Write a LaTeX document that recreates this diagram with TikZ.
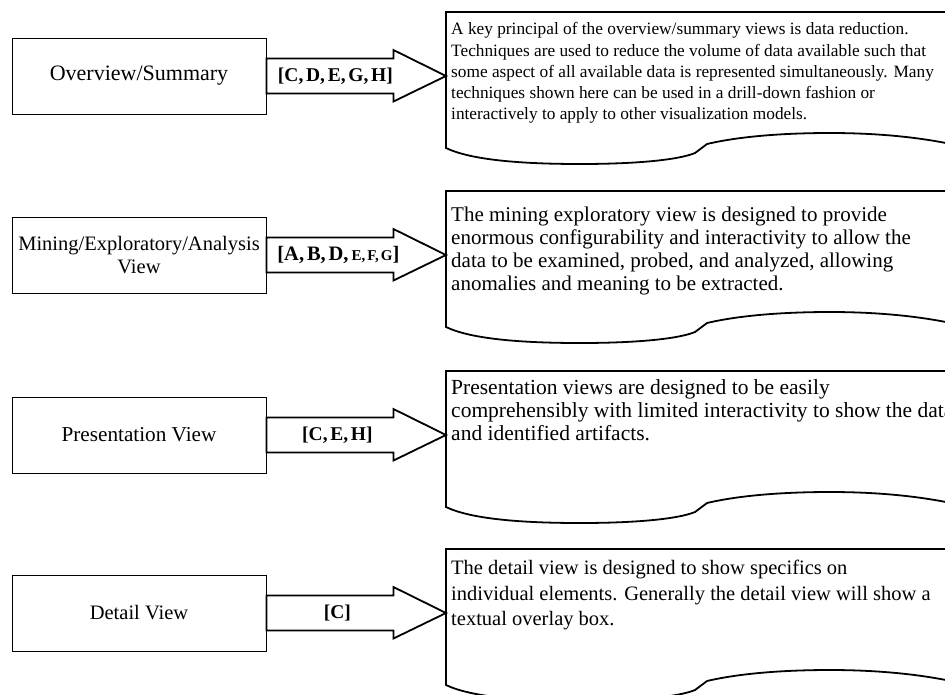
\documentclass[tikz,border=0pt]{standalone}
\usepackage{fontspec}
\setmainfont{Liberation Serif}
\usetikzlibrary{calc}
\newcommand{\lsp}{\hspace{0.14em}}
\begin{document}
\begin{tikzpicture}[x=1pt,y=-1pt,
  viewbox/.style={draw, line width=0.9pt, minimum width=254pt, minimum height=76pt,
    inner sep=0pt, align=center, font=\fontsize{20.5}{23}\selectfont},
  blockarrow/.style={draw, line width=1.8pt, line join=miter},
  arrowlabel/.style={font=\bfseries\fontsize{19.5}{21}\selectfont, inner sep=0pt},
  doctext/.style={anchor=north west, inner sep=0pt, align=left},
  docline/.style={draw, line width=1.8pt},
  docshape/.pic={
    \draw[docline] (0,136) -- (0,0) -- (514,0) -- (514,134)
      .. controls (475,125) and (430,121) .. (384,121)
      .. controls (340,121) and (295,124) .. (261,132)
      -- (249,141)
      .. controls (232,148) and (190,152) .. (134,152)
      .. controls (75,152) and (25,148) .. (0,136) -- cycle;
  }
]
\clip (0,0) rectangle (945,694);
\fill[white] (0,0) rectangle (945,694);

% row 1: overview / summary
\node[viewbox, font=\fontsize{22}{24}\selectfont] (ov) at (139,76) {Overview/Summary};
\coordinate (d1) at (446,12);
\pic at (d1) {docshape};
\node[doctext, font=\fontsize{17.3}{21.2}\selectfont] (t1) at ($(d1)+(5,10.5)$)
  {A key principal of the overview/summary views is data reduction.\\
   Techniques are used to reduce the volume of data available such that\\
   some aspect of all available data is represented simultaneously. Many\\
   techniques shown here can be used in a drill-down fashion or\\
   interactively to apply to other visualization models.};
\draw[blockarrow] ($(ov.east)+(0,-17.5)$) -- ++(127,0) -- ++(0,-8.5)
  -- (d1 |- ov.east) -- ($(ov.east)+(127,25.5)$) -- ++(0,-8)
  -- ($(ov.east)+(0,17.5)$) -- cycle;
\node[arrowlabel] (l1) at ($(ov.east)+(69,0)$) {[C,\lsp D,\lsp E,\lsp G,\lsp H]};

% row 2: mining / exploratory / analysis
\node[viewbox] (mi) at (139,255) {Mining/Exploratory/Analysis\\View};
\coordinate (d2) at (446,191);
\pic at (d2) {docshape};
\node[doctext, font=\fontsize{21}{23}\selectfont] (t2) at ($(d2)+(5,15.5)$)
  {The mining exploratory view is designed to provide\\
   enormous configurability and interactivity to allow the\\
   data to be examined, probed, and analyzed, allowing\\
   anomalies and meaning to be extracted.};
\draw[blockarrow] ($(mi.east)+(0,-17.5)$) -- ++(127,0) -- ++(0,-8.5)
  -- (d2 |- mi.east) -- ($(mi.east)+(127,25.5)$) -- ++(0,-8)
  -- ($(mi.east)+(0,17.5)$) -- cycle;
\node[arrowlabel, font=\bfseries\fontsize{20.5}{22}\selectfont] (l2) at ($(mi.east)+(72,0)$)
  {[A,\lsp B,\lsp D,\lsp{\fontsize{15}{16}\selectfont E,\lsp F,\lsp G}]};

% row 3: presentation
\node[viewbox, font=\fontsize{21.2}{23}\selectfont] (pr) at (139,435) {Presentation View};
\coordinate (d3) at (446,371);
\pic at (d3) {docshape};
\node[doctext, font=\fontsize{21.5}{22.8}\selectfont] (t3) at ($(d3)+(5,8.5)$)
  {Presentation views are designed to be easily\\
   comprehensibly with limited interactivity to show the data\\
   and identified artifacts.};
\draw[blockarrow] ($(pr.east)+(0,-17.5)$) -- ++(127,0) -- ++(0,-8.5)
  -- (d3 |- pr.east) -- ($(pr.east)+(127,25.5)$) -- ++(0,-8)
  -- ($(pr.east)+(0,17.5)$) -- cycle;
\node[arrowlabel] (l3) at ($(pr.east)+(71,0)$) {[C,\lsp E,\lsp H]};

% row 4: detail
\node[viewbox] (de) at (139,613) {Detail View};
\coordinate (d4) at (446,549);
\pic at (d4) {docshape};
\node[doctext, font=\fontsize{20.5}{25.5}\selectfont] (t4) at ($(d4)+(5,11)$)
  {The detail view is designed to show specifics on\\
   individual elements. Generally the detail view will show a\\
   textual overlay box.};
\draw[blockarrow] ($(de.east)+(0,-17.5)$) -- ++(127,0) -- ++(0,-8.5)
  -- (d4 |- de.east) -- ($(de.east)+(127,25.5)$) -- ++(0,-8)
  -- ($(de.east)+(0,17.5)$) -- cycle;
\node[arrowlabel] (l4) at ($(de.east)+(71,0)$) {[C]};
\end{tikzpicture}
\end{document}
